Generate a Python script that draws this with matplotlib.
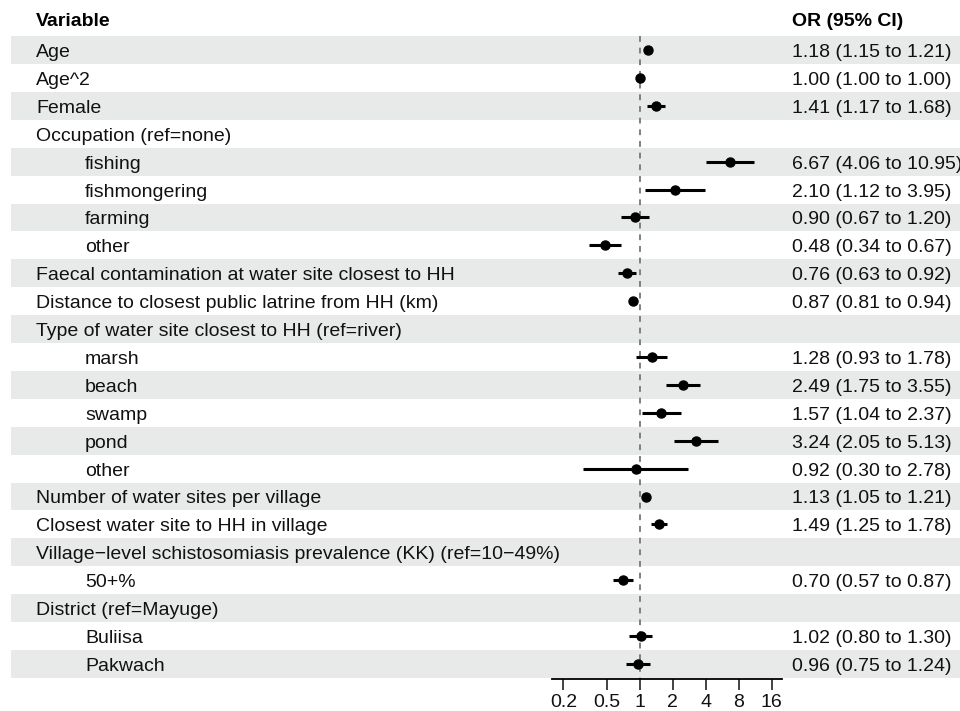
import numpy as np
import matplotlib
matplotlib.use("Agg")
import matplotlib.pyplot as plt
from matplotlib.transforms import blended_transform_factory
from matplotlib.patches import Rectangle

plt.rcParams['font.family'] = ['Liberation Sans', 'DejaVu Sans']

variables = ["Age", "Age^2", "Female", "Occupation (ref=none)",
             "fishing", "fishmongering", "farming", "other",
             "Faecal contamination at water site closest to HH",
             "Distance to closest public latrine from HH (km)",
             "Type of water site closest to HH (ref=river)",
             "marsh", "beach", "swamp", "pond", "other",
             "Number of water sites per village",
             "Closest water site to HH in village",
             "Village\u2212level schistosomiasis prevalence (KK) (ref=10\u221249%)",
             "50+%", "District (ref=Mayuge)", "Buliisa", "Pakwach"]
indented = [0, 0, 0, 0, 1, 1, 1, 1, 0, 0, 0, 1, 1, 1, 1, 1, 0, 0, 0, 1, 0, 1, 1]
odds_ratio = [1.18, 1.00, 1.41, np.nan, 6.67, 2.10, 0.90, 0.48, 0.76, 0.87, np.nan,
              1.28, 2.49, 1.57, 3.24, 0.92, 1.13, 1.49, np.nan, 0.70, np.nan, 1.02, 0.96]
ci_lower = [1.15, 1.00, 1.17, np.nan, 4.06, 1.12, 0.67, 0.34, 0.63, 0.81, np.nan,
            0.93, 1.75, 1.04, 2.05, 0.30, 1.05, 1.25, np.nan, 0.57, np.nan, 0.80, 0.75]
ci_upper = [1.21, 1.00, 1.68, np.nan, 10.95, 3.95, 1.20, 0.67, 0.92, 0.94, np.nan,
            1.78, 3.55, 2.37, 5.13, 2.78, 1.21, 1.78, np.nan, 0.87, np.nan, 1.30, 1.24]
x_ticks = [0.2, 0.5, 1, 2, 4, 8, 16]
x_tick_labels = ["0.2", "0.5", "1", "2", "4", "8", "16"]

W, H = 960, 711
fig = plt.figure(figsize=(W / 100, H / 100), dpi=100)

ax_left, ax_right = 551.7 / W, 781.7 / W
ax_bottom, ax_top = 1 - 679 / H, 1 - 5.4 / H
ax = fig.add_axes([ax_left, ax_bottom, ax_right - ax_left, ax_top - ax_bottom])
ax.set_xscale("log")
ax.set_xlim(0.156, 19.8)
ax.set_ylim(22.54, -1.6)

n = len(variables)
trans = blended_transform_factory(fig.transFigure, ax.transData)
fs = 14

# zebra stripes across the whole table
for i in range(0, n, 2):
    ax.add_patch(Rectangle((11 / W, i - 0.5), 1 - 11 / W, 1.0, transform=trans,
                           facecolor="#e7eae8", edgecolor="none", clip_on=False, zorder=0))

# reference line at OR = 1
ax.plot([1, 1], [-0.5, 22.54], color="#808080", lw=1.4, ls=(0, (3, 3)), zorder=1,
        clip_on=False)

for i in range(n):
    x_txt = (85 if indented[i] else 36) / W
    ax.text(x_txt, i + 0.25, variables[i], transform=trans, fontsize=fs,
            va="baseline", ha="left", color="#111111")
    if not np.isnan(odds_ratio[i]):
        ax.plot([ci_lower[i], ci_upper[i]], [i, i], color="black", lw=2.2,
                solid_capstyle="butt", zorder=2)
        ax.plot(odds_ratio[i], i, "o", color="black", ms=6.5, zorder=3)
        label = f"{odds_ratio[i]:.2f} ({ci_lower[i]:.2f} to {ci_upper[i]:.2f})"
        ax.text(792 / W, i + 0.25, label, transform=trans, fontsize=fs,
                va="baseline", ha="left", color="#111111")

ax.text(36 / W, -0.86, "Variable", transform=trans, fontsize=fs,
        fontweight="bold", va="baseline", ha="left")
ax.text(792 / W, -0.86, "OR (95% CI)", transform=trans, fontsize=fs,
        fontweight="bold", va="baseline", ha="left")

for side in ["top", "right", "left"]:
    ax.spines[side].set_visible(False)
ax.spines["bottom"].set_linewidth(1.3)
ax.set_yticks([])
ax.set_xticks(x_ticks)
ax.set_xticklabels(x_tick_labels, fontsize=fs)
ax.minorticks_off()
ax.tick_params(axis="x", length=8, width=1.1, pad=2.6, colors="#111111")
ax.patch.set_alpha(0)

fig.savefig("out.png", dpi=100)
